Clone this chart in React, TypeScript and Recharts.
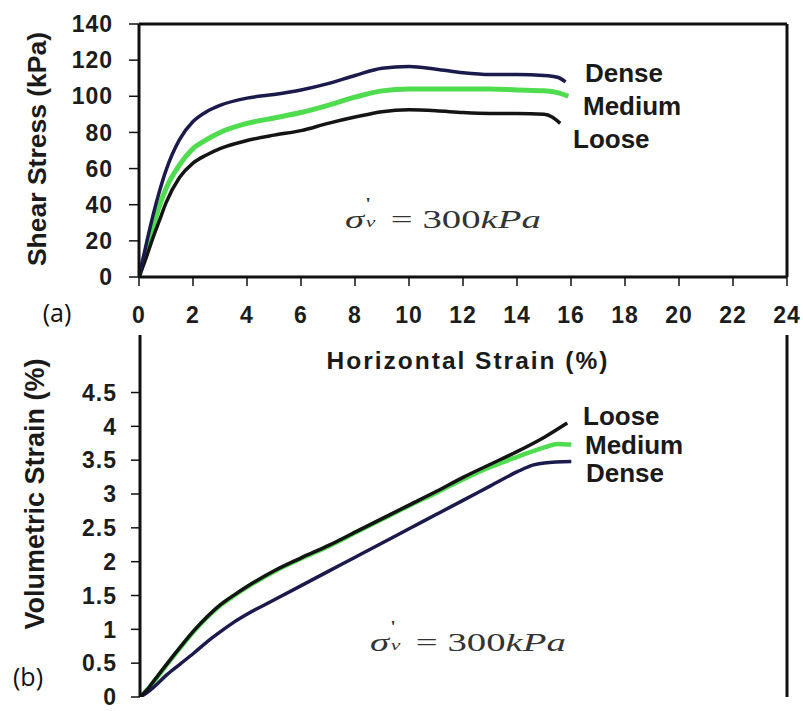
import React from 'react';
import { LineChart, Line, XAxis, YAxis, ReferenceLine } from 'recharts';

// ---- tick values ----
const strainTicks = [0, 2, 4, 6, 8, 10, 12, 14, 16, 18, 20, 22, 24];
const stressTicks = [0, 20, 40, 60, 80, 100, 120, 140];
const volTicks = [0, 0.5, 1, 1.5, 2, 2.5, 3, 3.5, 4, 4.5];

// ---- (a) shear stress vs horizontal strain ----
const denseStrainA = [0, 0.25, 0.5, 0.75, 1, 1.5, 2, 2.5, 3, 4, 5, 6, 7, 8, 9, 10, 11, 12, 13, 14, 15, 15.5, 15.8];
const denseStressA = [0, 17, 33, 47, 59, 76, 86, 91.5, 95, 99, 101, 103.5, 107, 111.5, 115.5, 116.5, 115, 113, 112, 112, 111.5, 110.5, 108];
const mediumStrainA = [0, 0.25, 0.5, 0.75, 1, 1.5, 2, 2.5, 3, 4, 5, 6, 7, 8, 9, 10, 11, 12, 13, 14, 15, 15.5, 15.9];
const mediumStressA = [0, 14, 27, 39, 49, 62, 71, 76, 80, 85, 88, 91, 95, 99.5, 103, 104, 104, 104, 104, 103.5, 103, 102, 100];
const looseStrainA = [0, 0.25, 0.5, 0.75, 1, 1.5, 2, 2.5, 3, 4, 5, 6, 7, 8, 9, 10, 11, 12, 13, 14, 15, 15.3, 15.6];
const looseStressA = [0, 10, 21, 31, 41, 55, 63, 67.5, 71, 75.5, 78.5, 81, 85, 88.5, 91.5, 92.5, 92, 91, 90.5, 90.5, 90, 88.5, 85];

// ---- (b) volumetric strain vs horizontal strain ----
const looseStrainB = [0, 0.25, 0.5, 1, 1.5, 2, 2.5, 3, 3.5, 4, 5, 6, 7, 8, 9, 10, 11, 12, 13, 14, 15, 15.85];
const looseVolB = [0, 0.1, 0.23, 0.49, 0.74, 0.98, 1.19, 1.37, 1.51, 1.64, 1.87, 2.06, 2.24, 2.44, 2.64, 2.84, 3.04, 3.25, 3.44, 3.63, 3.84, 4.05];
const mediumStrainB = [0, 0.25, 0.5, 1, 1.5, 2, 2.5, 3, 3.5, 4, 5, 6, 7, 8, 9, 10, 11, 12, 13, 14, 15, 15.5, 16];
const mediumVolB = [0, 0.1, 0.22, 0.48, 0.73, 0.97, 1.18, 1.36, 1.5, 1.63, 1.86, 2.05, 2.23, 2.43, 2.63, 2.83, 3.02, 3.22, 3.4, 3.55, 3.69, 3.74, 3.73];
const denseStrainB = [0, 0.25, 0.5, 1, 1.5, 2, 2.5, 3, 3.5, 4, 5, 6, 7, 8, 9, 10, 11, 12, 13, 14, 14.6, 15, 16];
const denseVolB = [0, 0.06, 0.14, 0.33, 0.49, 0.65, 0.82, 0.97, 1.11, 1.23, 1.44, 1.65, 1.86, 2.07, 2.28, 2.49, 2.7, 2.91, 3.12, 3.33, 3.43, 3.46, 3.48];

const zip = (xs: number[], ys: number[]) => xs.map((s, i) => ({ s, v: ys[i] }));

const DENSE = '#1b1a4d';
const MEDIUM = '#4fdc4f';
const LOOSE = '#141414';
const AXIS = '#111111';

const tickFont = {
  fill: '#1c1c1c',
  fontSize: 23,
  fontWeight: 700,
  letterSpacing: 1,
  fontFamily: '"Liberation Sans", Arial, sans-serif',
};

const boldLabel: React.CSSProperties = {
  position: 'absolute',
  fontFamily: '"Liberation Sans", Arial, sans-serif',
  fontWeight: 700,
  fontSize: 26,
  color: '#1a1a1a',
  whiteSpace: 'nowrap',
  lineHeight: 1,
};

function Sigma({ left, top }: { left: number; top: number }) {
  return (
    <div
      style={{
        position: 'absolute',
        left,
        top,
        transformOrigin: 'left center',
        transform: 'translateY(-50%) scaleX(1.55)',
        fontFamily: '"Liberation Serif", "DejaVu Serif", serif',
        fontSize: 25,
        color: '#333',
        whiteSpace: 'nowrap',
        lineHeight: 1,
        display: 'flex',
        alignItems: 'center',
      }}
    >
      <span style={{ fontStyle: 'italic', lineHeight: 1 }}>σ</span>
      <span style={{ display: 'inline-flex', flexDirection: 'column', alignItems: 'flex-start', width: 10, marginLeft: 1 }}>
        <span style={{ fontSize: 17, lineHeight: '12px', marginTop: -12 }}>'</span>
        <span style={{ fontSize: 14, lineHeight: '14px', fontStyle: 'italic', marginTop: 6 }}>v</span>
      </span>
      <span style={{ lineHeight: 1 }}>&nbsp;= 300</span>
      <span style={{ fontStyle: 'italic', lineHeight: 1 }}>kPa</span>
    </div>
  );
}

export default function App() {
  return (
    <div style={{ position: 'absolute', left: 0, top: 0, width: 803, height: 711, background: '#fff', overflow: 'hidden' }}>
      {/* (a) */}
      <div style={{ position: 'absolute', left: 0, top: 0 }}>
        <LineChart width={803} height={380} margin={{ top: 24, right: 16, bottom: 0, left: 0 }}>
          <XAxis
            type="number"
            dataKey="s"
            domain={[0, 24]}
            ticks={strainTicks}
            interval={0}
            height={103}
            tickSize={9}
            tickMargin={21}
            axisLine={{ stroke: AXIS, strokeWidth: 3 }}
            tickLine={{ stroke: AXIS, strokeWidth: 1.5 }}
            tick={tickFont}
            allowDataOverflow
          />
          <YAxis
            type="number"
            domain={[0, 140]}
            ticks={stressTicks}
            interval={0}
            width={139}
            tickSize={10}
            tickMargin={16}
            axisLine={{ stroke: AXIS, strokeWidth: 3 }}
            tickLine={{ stroke: AXIS, strokeWidth: 1.5 }}
            tick={tickFont}
            allowDataOverflow
          />
          <ReferenceLine y={140} stroke={AXIS} strokeWidth={3} />
          <ReferenceLine x={24} stroke={AXIS} strokeWidth={3} />
          <Line data={zip(mediumStrainA, mediumStressA)} dataKey="v" type="monotone" stroke={MEDIUM} strokeWidth={5} dot={false} isAnimationActive={false} />
          <Line data={zip(looseStrainA, looseStressA)} dataKey="v" type="monotone" stroke={LOOSE} strokeWidth={3.5} dot={false} isAnimationActive={false} />
          <Line data={zip(denseStrainA, denseStressA)} dataKey="v" type="monotone" stroke={DENSE} strokeWidth={3.5} dot={false} isAnimationActive={false} />
        </LineChart>
      </div>

      {/* (b) */}
      <div style={{ position: 'absolute', left: 0, top: 300 }}>
        <LineChart width={803} height={411} margin={{ top: 35, right: 16, bottom: 14, left: 0 }}>
          <XAxis
            type="number"
            dataKey="s"
            domain={[0, 24]}
            height={0}
            tick={false}
            tickLine={false}
            axisLine={{ stroke: AXIS, strokeWidth: 3 }}
            allowDataOverflow
          />
          <YAxis
            type="number"
            domain={[0, 5.35]}
            ticks={volTicks}
            interval={0}
            width={140}
            tickSize={9}
            tickMargin={14}
            axisLine={{ stroke: AXIS, strokeWidth: 3 }}
            tickLine={{ stroke: AXIS, strokeWidth: 1.5 }}
            tick={tickFont}
            allowDataOverflow
          />
          <ReferenceLine x={24} stroke={AXIS} strokeWidth={3} />
          <Line data={zip(mediumStrainB, mediumVolB)} dataKey="v" type="monotone" stroke={MEDIUM} strokeWidth={4.5} dot={false} isAnimationActive={false} />
          <Line data={zip(denseStrainB, denseVolB)} dataKey="v" type="monotone" stroke={DENSE} strokeWidth={3.5} dot={false} isAnimationActive={false} />
          <Line data={zip(looseStrainB, looseVolB)} dataKey="v" type="monotone" stroke={LOOSE} strokeWidth={3.5} dot={false} isAnimationActive={false} />
        </LineChart>
      </div>

      {/* axis titles */}
      <div style={{ ...boldLabel, fontSize: 26.5, left: 37, top: 149, transform: 'translate(-50%, -50%) rotate(-90deg)' }}>
        Shear Stress (kPa)
      </div>
      <div style={{ ...boldLabel, fontSize: 27, left: 35, top: 494, transform: 'translate(-50%, -50%) rotate(-90deg)' }}>
        Volumetric Strain (%)
      </div>
      <div style={{ ...boldLabel, fontSize: 24.5, letterSpacing: 2, left: 468, top: 361, transform: 'translate(-50%, -50%)' }}>
        Horizontal Strain (%)
      </div>

      {/* panel letters */}
      <div style={{ position: 'absolute', left: 57, top: 312, transform: 'translate(-50%, -50%)', fontFamily: '"Open Sans", "Noto Sans", sans-serif', fontSize: 25, color: '#111', lineHeight: 1 }}>
        (a)
      </div>
      <div style={{ position: 'absolute', left: 28, top: 676, transform: 'translate(-50%, -50%)', fontFamily: '"Open Sans", "Noto Sans", sans-serif', fontSize: 25, color: '#111', lineHeight: 1 }}>
        (b)
      </div>

      {/* series labels (a) */}
      <div style={{ ...boldLabel, left: 585, top: 73, transform: 'translateY(-50%)' }}>Dense</div>
      <div style={{ ...boldLabel, left: 583, top: 106, transform: 'translateY(-50%)' }}>Medium</div>
      <div style={{ ...boldLabel, left: 573, top: 139, transform: 'translateY(-50%)' }}>Loose</div>

      {/* series labels (b) */}
      <div style={{ ...boldLabel, left: 583, top: 416, transform: 'translateY(-50%)' }}>Loose</div>
      <div style={{ ...boldLabel, left: 585, top: 445, transform: 'translateY(-50%)' }}>Medium</div>
      <div style={{ ...boldLabel, left: 586, top: 473, transform: 'translateY(-50%)' }}>Dense</div>

      {/* annotations */}
      <Sigma left={345} top={219} />
      <Sigma left={370} top={642} />
    </div>
  );
}
